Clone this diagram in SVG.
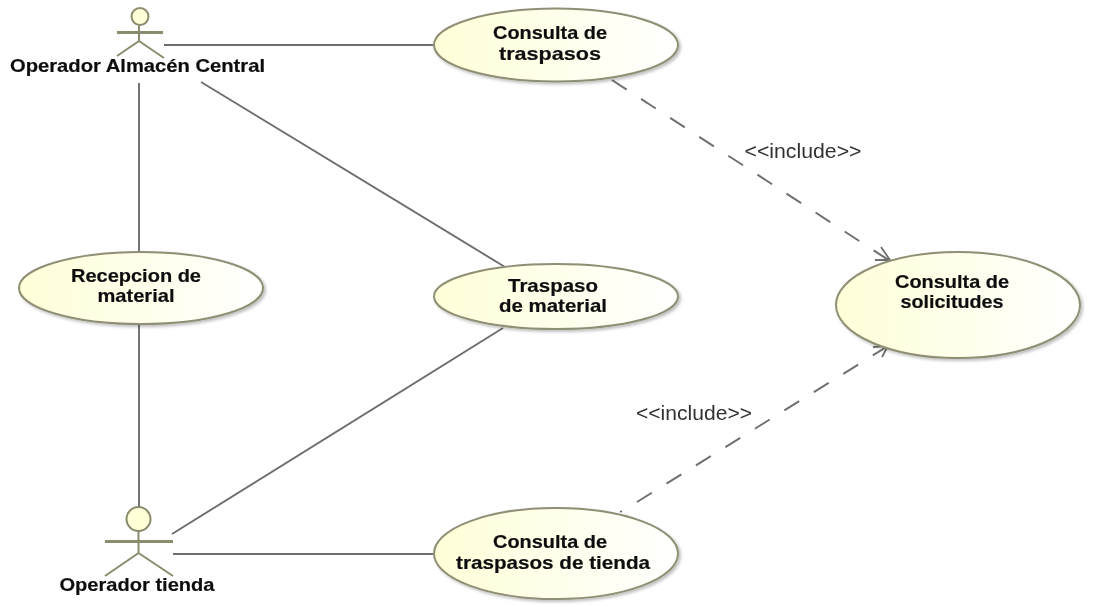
<svg xmlns="http://www.w3.org/2000/svg" width="1107" height="607" viewBox="0 0 1107 607">
<style>
.u{stroke:#8f8f74;stroke-width:2}
.t{font-family:"Liberation Sans",Arial,sans-serif;font-weight:bold;font-size:18.5px;fill:#111;text-anchor:middle;stroke:#111;stroke-width:.2}
.l{font-family:"Liberation Sans",Arial,sans-serif;font-size:19.5px;fill:#333;text-anchor:middle}
.c{fill:none;stroke:#6e6e6e;stroke-width:1.9}
.d{fill:none;stroke:#707070;stroke-width:2;stroke-dasharray:17.5 17.2}
.a{fill:none;stroke:#6e6e6e;stroke-width:1.8}
.h{fill:#ffffd8;stroke:#8b8b6e;stroke-width:2}
.b{fill:none;stroke:#8b8b6e;stroke-width:2}
.bb{fill:none;stroke:#8b8b6e;stroke-width:3}
</style>
<defs>
<linearGradient id="g" x1="0" y1="0" x2="1" y2="0"><stop offset="0" stop-color="#ffffd8"/><stop offset="1" stop-color="#ffffff"/></linearGradient>
<filter id="sh" x="-10%" y="-10%" width="120%" height="125%"><feDropShadow dx="2" dy="2" stdDeviation="1.5" flood-color="#000" flood-opacity=".25"/></filter>
<filter id="soft" x="0" y="0" width="1107" height="607" filterUnits="userSpaceOnUse"><feGaussianBlur stdDeviation="0.6"/></filter>
</defs>
<rect width="1107" height="607" fill="#fff"/>
<g filter="url(#soft)">
<g id="connectors">
<path class="c" d="M164 45H433"/>
<path class="c" d="M139 83V252"/>
<path class="c" d="M201 82L505 267"/>
<path class="c" d="M139 325V507"/>
<path class="c" d="M172 534L503 328"/>
<path class="c" d="M173 554H433"/>
<path class="d" d="M612 80L890 261"/>
<path class="d" d="M637 502L888 346"/>
<path class="a" d="M620 512L622 511"/>
<path class="a" d="M881 247L890 260L875 260"/>
<path class="a" d="M873 347L888 346L882 357"/>
</g>
<g id="uc-consulta-traspasos"><ellipse class="u" filter="url(#sh)" cx="556" cy="45" rx="122" ry="36.5" fill="url(#g)"/><text class="t" x="550" y="39" textLength="114" lengthAdjust="spacingAndGlyphs">Consulta de</text><text class="t" x="550" y="60" textLength="102" lengthAdjust="spacingAndGlyphs">traspasos</text></g>
<g id="uc-recepcion"><ellipse class="u" filter="url(#sh)" cx="141" cy="288" rx="122" ry="36" fill="url(#g)"/><text class="t" x="136" y="282" textLength="130" lengthAdjust="spacingAndGlyphs">Recepcion de</text><text class="t" x="136" y="302" textLength="77" lengthAdjust="spacingAndGlyphs">material</text></g>
<g id="uc-traspaso"><ellipse class="u" filter="url(#sh)" cx="556" cy="296.5" rx="122" ry="32.5" fill="url(#g)"/><text class="t" x="553" y="292" textLength="90" lengthAdjust="spacingAndGlyphs">Traspaso</text><text class="t" x="553" y="312" textLength="108" lengthAdjust="spacingAndGlyphs">de material</text></g>
<g id="uc-solicitudes"><ellipse class="u" filter="url(#sh)" cx="958" cy="305" rx="122" ry="53" fill="url(#g)"/><text class="t" x="952" y="288" textLength="114" lengthAdjust="spacingAndGlyphs">Consulta de</text><text class="t" x="952" y="308" textLength="103" lengthAdjust="spacingAndGlyphs">solicitudes</text></g>
<g id="uc-traspasos-tienda"><ellipse class="u" filter="url(#sh)" cx="556" cy="553.5" rx="122" ry="45.5" fill="url(#g)"/><text class="t" x="550" y="548" textLength="114" lengthAdjust="spacingAndGlyphs">Consulta de</text><text class="t" x="553" y="569" textLength="194" lengthAdjust="spacingAndGlyphs">traspasos de tienda</text></g>
<g id="actor-almacen"><circle class="h" cx="140" cy="16.5" r="8.5"/><path class="b" d="M139 25V41L117 56M139 41L164 58"/><path class="bb" d="M117 32.500H163"/><text class="t" x="137.500" y="72" textLength="255" lengthAdjust="spacingAndGlyphs">Operador Almacén Central</text></g>
<g id="actor-tienda"><circle class="h" cx="138.500" cy="519" r="12"/><path class="b" d="M138.500 531V553L105 576M138.500 553L173 576"/><path class="bb" d="M105 541.500H173"/><text class="t" x="137" y="591" textLength="155" lengthAdjust="spacingAndGlyphs">Operador tienda</text></g>
<g id="labels"><text class="l" x="803" y="158" textLength="117" lengthAdjust="spacingAndGlyphs">&lt;&lt;include&gt;&gt;</text><text class="l" x="694" y="420" textLength="116" lengthAdjust="spacingAndGlyphs">&lt;&lt;include&gt;&gt;</text></g>
</g>
</svg>
